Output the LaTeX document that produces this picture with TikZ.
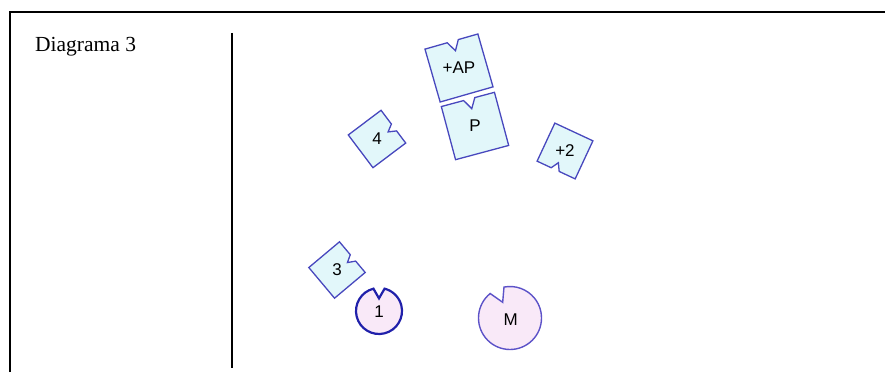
\documentclass[tikz,border=0pt]{standalone}
\usepackage{fontspec}
\setmainfont{Liberation Serif}
\setsansfont{Liberation Sans}
\definecolor{sqfill}{RGB}{226,247,250}
\definecolor{sqedge}{RGB}{72,72,190}
\definecolor{discfill}{RGB}{249,233,248}
\definecolor{discdark}{RGB}{32,32,170}
\definecolor{discmid}{RGB}{92,82,200}
\tikzset{
  sqline/.style={draw=sqedge, fill=sqfill, line width=1.3pt, line join=miter},
  discbold/.style={draw=discdark, fill=discfill, line width=2.2pt},
  discthin/.style={draw=discmid, fill=discfill, line width=1.4pt},
  lbl/.style={font=\sffamily\fontsize{17}{19}\selectfont, inner sep=0pt},
  pics/notchsq/.style={code={
    \draw[sqline] (-1,-1) -- (1,-1) -- (1,1) -- (0.26,1) -- (0.05,0.64) -- (-0.16,1) -- (-1,1) -- cycle;
    \node[lbl] (-lbl) at (0,0) {#1};
  }},
  pics/disc/.style 2 args={code={
    \draw[#2] (104:1) arc (104:436:1) -- (90:0.55) -- cycle;
    \node[lbl] (-lbl) at (0,-0.05) {#1};
  }}
}
\begin{document}
\begin{tikzpicture}[x=1pt, y=1pt]
\useasboundingbox (0,0) rectangle (885,372);
% frame and divider
\coordinate (fl) at (10,0);
\coordinate (ftl) at (10,360);
\coordinate (ftr) at (885,360);
\draw[line width=2.6pt] (fl) -- (ftl) -- (ftr);
\coordinate (dtop) at (232,339);
\coordinate (dbot) at (232,4);
\draw[line width=2.6pt] (dtop) -- (dbot);
\node[anchor=base west, inner sep=0pt, font=\fontsize{21.5}{26}\selectfont] (title) at (35,320) {Diagrama 3};
% square pieces
\pic[rotate=16, scale=27.5] (ap) at (459,304) {notchsq=+AP};
\pic[rotate=15, scale=27.5] (p) at (475,246) {notchsq=P};
\pic[rotate=-53, scale=20.5] (four) at (377,233) {notchsq=4};
\pic[rotate=155, scale=21] (two) at (565,221) {notchsq=+2};
\pic[rotate=-50, scale=20] (three) at (337,102) {notchsq=3};
% discs
\pic[scale=23] (one) at (379,61) {disc={1}{discbold}};
\pic[rotate=25, scale=31.5] (m) at (510,54) {disc={M}{discthin}};
\end{tikzpicture}
\end{document}
